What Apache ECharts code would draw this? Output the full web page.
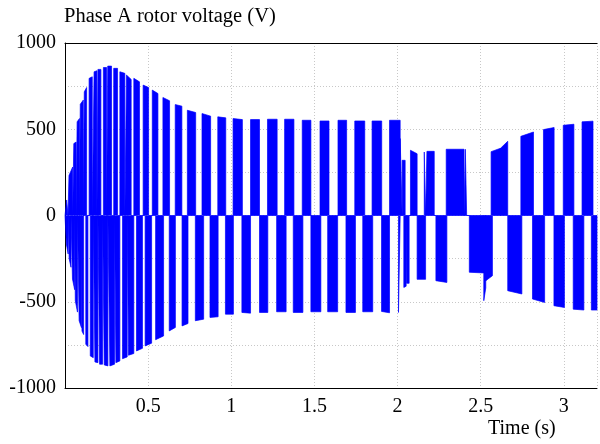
<!DOCTYPE html>
<html>
<head>
<meta charset="utf-8">
<script src="https://cdn.jsdelivr.net/npm/echarts@6/dist/echarts.min.js"></script>
<style>html,body{margin:0;padding:0;background:#fff}#c{width:600px;height:444px}</style>
</head>
<body>
<div id="c"></div>
<script>
// Axis settings
const xTicks = [0.5, 1, 1.5, 2, 2.5, 3];
const yTicks = [-1000, -500, 0, 500, 1000];
const titleText = 'Phase A rotor voltage (V)';
const xName = 'Time (s)';

// Positive switching blocks: [tStart, tEnd, vStart, vEnd]
const posBlocks = [
  [0.010, 0.018, 90, 80],
  [0.024, 0.046, 232, 281],
  [0.053, 0.067, 417, 426],
  [0.073, 0.087, 543, 562],
  [0.092, 0.110, 645, 669],
  [0.116, 0.130, 717, 742],
  [0.145, 0.164, 795, 804],
  [0.175, 0.192, 833, 839],
  [0.198, 0.216, 847, 847],
  [0.231, 0.250, 858, 858],
  [0.257, 0.280, 866, 866],
  [0.293, 0.316, 853, 853],
  [0.330, 0.360, 833, 824],
  [0.370, 0.398, 814, 789],
  [0.414, 0.448, 795, 775],
  [0.470, 0.503, 756, 742],
  [0.525, 0.559, 727, 707],
  [0.589, 0.629, 684, 665],
  [0.663, 0.703, 643, 634],
  [0.736, 0.786, 610, 597],
  [0.824, 0.876, 591, 576],
  [0.919, 0.967, 572, 566],
  [1.011, 1.067, 562, 556],
  [1.116, 1.170, 556, 556],
  [1.218, 1.276, 558, 558],
  [1.321, 1.377, 558, 558],
  [1.427, 1.479, 552, 552],
  [1.534, 1.588, 548, 548],
  [1.642, 1.694, 552, 552],
  [1.743, 1.803, 548, 548],
  [1.847, 1.905, 548, 548],
  [1.952, 2.016, 552, 552],
  [2.016, 2.028, 446, 436],
  [2.028, 2.046, 320, 320],
  [2.078, 2.118, 378, 358],
  [2.161, 2.169, 368, 368],
  [2.177, 2.221, 372, 372],
  [2.293, 2.400, 384, 384],
  [2.408, 2.416, 384, 384],
  [2.563, 2.620, 370, 390],
  [2.620, 2.663, 390, 430],
  [2.742, 2.818, 459, 484],
  [2.878, 2.942, 498, 510],
  [2.997, 3.061, 523, 529],
  [3.110, 3.176, 543, 547]
];

// Negative switching blocks: [tStart, tEnd, vStart, vEnd]
const negBlocks = [
  [0.008, 0.019, -165, -223],
  [0.025, 0.036, -250, -300],
  [0.045, 0.058, -368, -430],
  [0.062, 0.075, -494, -560],
  [0.085, 0.099, -610, -650],
  [0.102, 0.112, -670, -690],
  [0.125, 0.138, -746, -760],
  [0.152, 0.170, -814, -824],
  [0.180, 0.198, -849, -853],
  [0.208, 0.226, -862, -862],
  [0.236, 0.258, -866, -872],
  [0.270, 0.298, -872, -862],
  [0.306, 0.330, -853, -843],
  [0.346, 0.374, -830, -820],
  [0.382, 0.414, -810, -800],
  [0.430, 0.466, -785, -770],
  [0.482, 0.521, -756, -740],
  [0.545, 0.593, -720, -698],
  [0.627, 0.664, -669, -649],
  [0.704, 0.740, -640, -626],
  [0.784, 0.834, -610, -601],
  [0.872, 0.921, -591, -587],
  [0.965, 1.013, -572, -572],
  [1.064, 1.116, -562, -566],
  [1.170, 1.220, -562, -562],
  [1.273, 1.330, -558, -558],
  [1.373, 1.431, -562, -562],
  [1.479, 1.539, -558, -558],
  [1.580, 1.640, -558, -558],
  [1.690, 1.747, -562, -562],
  [1.791, 1.851, -558, -558],
  [1.904, 1.952, -556, -564],
  [2.006, 2.016, -562, -562],
  [2.038, 2.052, -417, -410],
  [2.055, 2.070, -393, -393],
  [2.118, 2.169, -370, -370],
  [2.231, 2.297, -378, -388],
  [2.432, 2.519, -329, -333],
  [2.519, 2.531, -494, -420],
  [2.531, 2.571, -378, -349],
  [2.663, 2.748, -436, -455],
  [2.812, 2.885, -484, -504],
  [2.941, 3.004, -523, -533],
  [3.057, 3.121, -543, -548],
  [3.166, 3.200, -548, -548]
];

function toLine(blocks) {
  const pts = [[0, 0]];
  blocks.forEach(b => {
    pts.push([b[0], 0], [b[0], b[2]], [b[1], b[3]], [b[1], 0]);
  });
  pts.push([3.2, 0]);
  return pts;
}

const FONT = '"Liberation Serif", "DejaVu Serif", serif';
const chart = echarts.init(document.getElementById('c'), null, {renderer: 'canvas'});
const isTick = (v, list) => list.some(t => Math.abs(t - v) < 1e-6);
const grid = '#c8c8c8';

chart.setOption({
  animation: false,
  backgroundColor: '#fff',
  grid: {left: 65, right: -1, top: 43, bottom: 56, show: false, containLabel: false},
  graphic: [
    {type: 'text', left: 64, top: 6, style: {text: titleText, font: '20.5px ' + FONT, fill: '#000'}},
    {type: 'text', left: 488, top: 419, style: {text: xName, font: '20px ' + FONT, fill: '#000'}}
  ],
  xAxis: [{
    type: 'value', min: 0, max: 3.2, interval: 0.5,
    axisLine: {show: true, onZero: false, lineStyle: {color: '#000', width: 1}},
    axisTick: {show: false},
    splitLine: {show: true, lineStyle: {color: grid, type: [1, 2], width: 1}},
    axisLabel: {
      color: '#000', fontFamily: FONT, fontSize: 20, margin: 9,
      formatter: v => isTick(v, xTicks) ? String(v) : ''
    }
  }, {
    type: 'value', position: 'top', min: 0, max: 3.2,
    axisLine: {show: true, onZero: false, lineStyle: {color: '#000', width: 1}},
    axisTick: {show: false}, axisLabel: {show: false}, splitLine: {show: false}
  }],
  yAxis: {
    type: 'value', min: -1000, max: 1000, interval: 250,
    axisLine: {show: true, onZero: false, lineStyle: {color: '#000', width: 1}},
    axisTick: {show: false},
    splitLine: {show: true, lineStyle: {color: grid, type: [1, 2], width: 1}},
    axisLabel: {
      color: '#000', fontFamily: FONT, fontSize: 20, margin: 9,
      formatter: v => isTick(v, yTicks) ? String(v) : ''
    }
  },
  series: [
    {
      type: 'line', data: toLine(posBlocks), showSymbol: false, sampling: null,
      lineStyle: {color: '#0000ff', width: 0.7}, areaStyle: {color: '#0000ff', opacity: 1, origin: 0},
      silent: true, z: 3
    },
    {
      type: 'line', data: toLine(negBlocks), showSymbol: false, sampling: null,
      lineStyle: {color: '#0000ff', width: 0.7}, areaStyle: {color: '#0000ff', opacity: 1, origin: 0},
      silent: true, z: 3
    }
  ]
});
</script>
</body>
</html>
